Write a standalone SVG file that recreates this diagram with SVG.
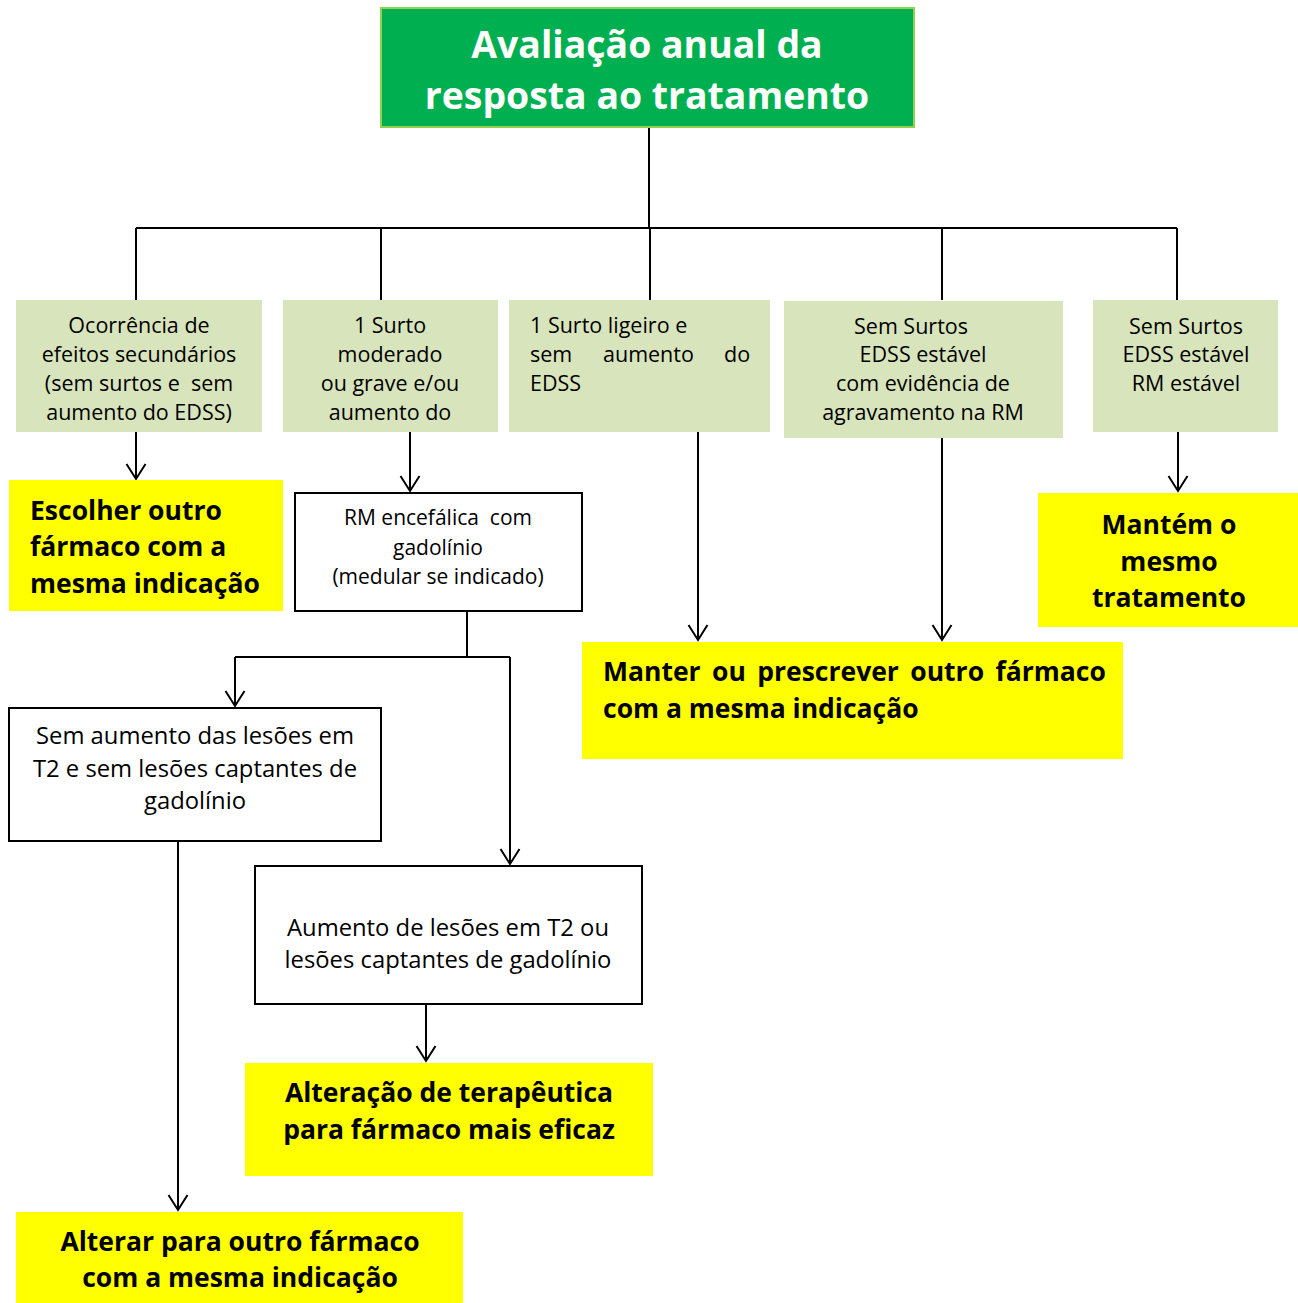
<svg xmlns="http://www.w3.org/2000/svg" width="1298" height="1303" viewBox="0 0 1298 1303">
<style>
.g{fill:#D8E4BC}
.y{fill:#FFFF00}
.w{fill:#fff;stroke:#000;stroke-width:2}
.t{font-family:"Open Sans","DejaVu Sans",sans-serif;fill:#000}
.n{font-size:21.5px}
.b{font-size:26.5px;font-weight:bold}
.c{stroke:#000;stroke-width:2;fill:none}
</style>
<defs>
<marker id="a" markerUnits="userSpaceOnUse" markerWidth="24" markerHeight="24" refX="21" refY="12" orient="auto" viewBox="0 0 24 24">
<path d="M6,2.5 L21,12 L6,21.5" fill="none" stroke="#000" stroke-width="2"/>
</marker>
</defs>
<rect width="1298" height="1303" fill="#fff"/>
<g id="connectors" class="c">
<path d="M649,127 V228 M136,228 H1177 M136,228 V300 M381,228 V300 M650,228 V300 M942,228 V300 M1177,228 V300"/>
<path d="M136,432 V479" marker-end="url(#a)"/>
<path d="M410,432 V491" marker-end="url(#a)"/>
<path d="M467,611 V657 M235,657 H510"/>
<path d="M235,657 V706" marker-end="url(#a)"/>
<path d="M510,657 V864" marker-end="url(#a)"/>
<path d="M178,841 V1210" marker-end="url(#a)"/>
<path d="M426,1004 V1061" marker-end="url(#a)"/>
<path d="M698,432 V640" marker-end="url(#a)"/>
<path d="M942,438 V640" marker-end="url(#a)"/>
<path d="M1178,432 V491" marker-end="url(#a)"/>
</g>
<g id="title">
<rect x="381" y="8" width="533" height="119" fill="#00B050" stroke="#92D050" stroke-width="2"/>
<text class="t" x="647" y="58" text-anchor="middle" font-size="37.4" font-weight="bold" style="fill:#fff">Avaliação anual da</text>
<text class="t" x="647" y="109" text-anchor="middle" font-size="37.4" font-weight="bold" style="fill:#fff">resposta ao tratamento</text>
</g>
<g id="n1">
<rect class="g" x="16" y="300" width="246" height="132"/>
<text class="t n" text-anchor="middle"><tspan x="139" y="333">Ocorrência de</tspan><tspan x="139" y="362">efeitos secundários</tspan><tspan x="139" y="391" xml:space="preserve">(sem surtos e  sem</tspan><tspan x="139" y="420">aumento do EDSS)</tspan></text>
</g>
<g id="n2">
<rect class="g" x="283" y="300" width="215" height="132"/>
<text class="t n" text-anchor="middle"><tspan x="390" y="333">1 Surto</tspan><tspan x="390" y="362">moderado</tspan><tspan x="390" y="391">ou grave e/ou</tspan><tspan x="390" y="420">aumento do</tspan></text>
</g>
<g id="n3">
<rect class="g" x="509" y="300" width="261" height="132"/>
<text class="t n"><tspan x="530" y="333">1 Surto ligeiro e</tspan><tspan x="530" y="362">sem</tspan><tspan x="603" y="362">aumento</tspan><tspan x="724" y="362">do</tspan><tspan x="530" y="391">EDSS</tspan></text>
</g>
<g id="n4">
<rect class="g" x="784" y="301" width="279" height="137"/>
<text class="t n" text-anchor="middle"><tspan x="911" y="334">Sem Surtos</tspan><tspan x="923" y="362">EDSS estável</tspan><tspan x="923" y="391">com evidência de</tspan><tspan x="923" y="420">agravamento na RM</tspan></text>
</g>
<g id="n5">
<rect class="g" x="1093" y="300" width="185" height="132"/>
<text class="t n" text-anchor="middle"><tspan x="1186" y="334">Sem Surtos</tspan><tspan x="1186" y="362">EDSS estável</tspan><tspan x="1186" y="391">RM estável</tspan></text>
</g>
<g id="y1">
<rect class="y" x="9" y="480" width="274" height="131"/>
<text class="t b"><tspan x="30" y="520">Escolher outro</tspan><tspan x="30" y="556">fármaco com a</tspan><tspan x="30" y="593">mesma indicação</tspan></text>
</g>
<g id="rm">
<rect class="w" x="295" y="493" width="287" height="118"/>
<text class="t" font-size="21" text-anchor="middle"><tspan x="438" y="525" xml:space="preserve">RM encefálica  com</tspan><tspan x="438" y="555">gadolínio</tspan><tspan x="438" y="584">(medular se indicado)</tspan></text>
</g>
<g id="y5">
<rect class="y" x="1038" y="493" width="260" height="134"/>
<text class="t b" text-anchor="middle"><tspan x="1169" y="534">Mantém o</tspan><tspan x="1169" y="571">mesmo</tspan><tspan x="1169" y="607">tratamento</tspan></text>
</g>
<g id="y34">
<rect class="y" x="582" y="642" width="541" height="117"/>
<text class="t b"><tspan x="603" y="681" word-spacing="4.5">Manter ou prescrever outro fármaco</tspan><tspan x="603" y="718">com a mesma indicação</tspan></text>
</g>
<g id="sem">
<rect class="w" x="9" y="708" width="372" height="133"/>
<text class="t" font-size="23.8" text-anchor="middle"><tspan x="195" y="744">Sem aumento das lesões em</tspan><tspan x="195" y="777">T2 e sem lesões captantes de</tspan><tspan x="195" y="809">gadolínio</tspan></text>
</g>
<g id="aum">
<rect class="w" x="255" y="866" width="387" height="138"/>
<text class="t" font-size="23.8" text-anchor="middle"><tspan x="448" y="936">Aumento de lesões em T2 ou</tspan><tspan x="448" y="968">lesões captantes de gadolínio</tspan></text>
</g>
<g id="y3">
<rect class="y" x="245" y="1063" width="408" height="113"/>
<text class="t b" text-anchor="middle"><tspan x="449" y="1102">Alteração de terapêutica</tspan><tspan x="449" y="1139">para fármaco mais eficaz</tspan></text>
</g>
<g id="y2">
<rect class="y" x="16" y="1212" width="447" height="91"/>
<text class="t b" text-anchor="middle"><tspan x="240" y="1251">Alterar para outro fármaco</tspan><tspan x="240" y="1287">com a mesma indicação</tspan></text>
</g>
</svg>
